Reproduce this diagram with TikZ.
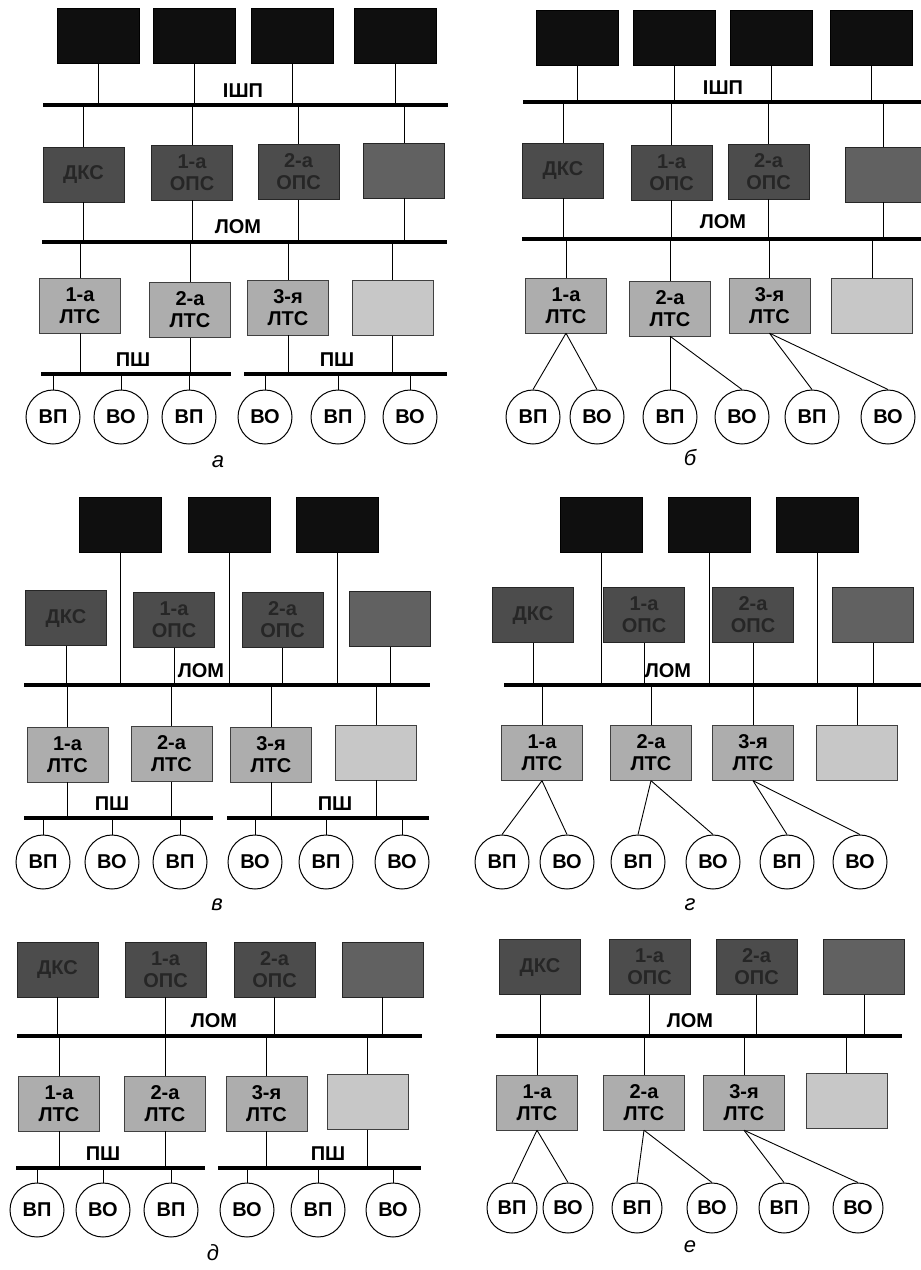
\documentclass[tikz,border=0pt]{standalone}
\usepackage{fontspec}
\setmainfont{Liberation Sans}
\newcommand\boxfont{\fontsize{20}{22}\selectfont\bfseries}
\newcommand\plfont{\fontsize{22}{24}\selectfont\itshape}
\tikzset{
 blk/.style={draw=black, fill=black!94, minimum width=82pt, minimum height=55pt, inner sep=0pt},
 dk/.style={draw=black!85, fill=black!70, text=black!85, minimum width=81pt, minimum height=55pt, inner sep=0pt, align=center, font=\boxfont},
 dkf/.style={dk, fill=black!62},
 lt/.style={draw=black!75, fill=black!32, minimum width=81pt, minimum height=55pt, inner sep=0pt, align=center, font=\boxfont},
 ltf/.style={lt, fill=black!22},
 st/.style={circle, draw=black, line width=1pt, fill=white, minimum size=54pt, inner sep=0pt, font=\boxfont},
 sts/.style={st, minimum size=50pt},
 bus/.style={line width=4.5pt},
 wire/.style={line width=0.9pt},
 buslbl/.style={font=\boxfont, inner sep=0pt},
 plbl/.style={font=\plfont, inner sep=0pt},
}
\begin{document}
\begin{tikzpicture}[x=1pt,y=-1pt]
\useasboundingbox[fill=white] (0,0) rectangle (921,1270);

% ================= panel a =================
\node[blk] (aB1) at (98,36) {};
\node[blk] (aB2) at (194.5,36) {};
\node[blk] (aB3) at (292,36) {};
\node[blk] (aB4) at (395,36) {};
\coordinate (aI1) at (43,105); \coordinate (aI2) at (448,105);
\draw[bus] (aI1) -- (aI2);
\node[buslbl] (aIl) at (243,91) {ІШП};
\node[dk] (aD1) at (83.5,174.5) {ДКС};
\node[dk] (aD2) at (192,172.5) {1-а\\ОПС};
\node[dk] (aD3) at (298.5,172) {2-а\\ОПС};
\node[dkf] (aD4) at (404,170.5) {};
\coordinate (aM1) at (42,242); \coordinate (aM2) at (447,242);
\draw[bus] (aM1) -- (aM2);
\node[buslbl] (aMl) at (238,227) {ЛОМ};
\node[lt] (aL1) at (80,305.5) {1-а\\ЛТС};
\node[lt] (aL2) at (190,310) {2-а\\ЛТС};
\node[lt] (aL3) at (288,307.5) {3-я\\ЛТС};
\node[ltf] (aL4) at (392.5,308) {};
\coordinate (aP1) at (41,374); \coordinate (aP2) at (231,374);
\coordinate (aP3) at (244,374); \coordinate (aP4) at (447,374);
\draw[bus] (aP1) -- (aP2);
\draw[bus] (aP3) -- (aP4);
\node[buslbl] (aPl1) at (133,360) {ПШ};
\node[buslbl] (aPl2) at (337,360) {ПШ};
\node[st] (aC1) at (53,417) {ВП};
\node[st] (aC2) at (121,417) {ВО};
\node[st] (aC3) at (189,417) {ВП};
\node[st] (aC4) at (265,417) {ВО};
\node[st] (aC5) at (338,417) {ВП};
\node[st] (aC6) at (410,417) {ВО};
\foreach \i in {1,2,3,4} {
  \draw[wire] (aB\i.south) -- (aB\i.south |- aI1);
  \draw[wire] (aI1 -| aD\i.north) -- (aD\i.north);
  \draw[wire] (aD\i.south) -- (aD\i.south |- aM1);
  \draw[wire] (aM1 -| aL\i.north) -- (aL\i.north);
  \draw[wire] (aL\i.south) -- (aL\i.south |- aP1);
}
\foreach \i in {1,2,3,4,5,6} {
  \draw[wire] (aP1 -| aC\i.north) -- (aC\i.north);
}
\node[plbl] (aT) at (218,462) {а};

% ================= panel b =================
\node[blk] (bB1) at (577.5,37.5) {};
\node[blk] (bB2) at (674,37.5) {};
\node[blk] (bB3) at (771,37.5) {};
\node[blk] (bB4) at (871,37.5) {};
\coordinate (bI1) at (523,102); \coordinate (bI2) at (921,102);
\draw[bus] (bI1) -- (bI2);
\node[buslbl] (bIl) at (723,88) {ІШП};
\node[dk] (bD1) at (563,170.5) {ДКС};
\node[dk] (bD2) at (671.5,172.5) {1-а\\ОПС};
\node[dk] (bD3) at (768.5,171.5) {2-а\\ОПС};
\node[dkf, minimum width=77pt] (bD4) at (883.5,174.5) {};
\coordinate (bM1) at (522,239); \coordinate (bM2) at (921,239);
\draw[bus] (bM1) -- (bM2);
\node[buslbl] (bMl) at (723,222) {ЛОМ};
\node[lt] (bL1) at (566,305.5) {1-а\\ЛТС};
\node[lt] (bL2) at (670,308.5) {2-а\\ЛТС};
\node[lt] (bL3) at (769.5,305.5) {3-я\\ЛТС};
\node[ltf] (bL4) at (872,306) {};
\node[st] (bC1) at (533,417) {ВП};
\node[st] (bC2) at (597,417) {ВО};
\node[st] (bC3) at (670,417) {ВП};
\node[st] (bC4) at (742,417) {ВО};
\node[st] (bC5) at (812,417) {ВП};
\node[st] (bC6) at (888,417) {ВО};
\foreach \i in {1,2,3,4} {
  \draw[wire] (bB\i.south) -- (bB\i.south |- bI1);
  \draw[wire] (bI1 -| bD\i.north) -- (bD\i.north);
  \draw[wire] (bD\i.south) -- (bD\i.south |- bM1);
  \draw[wire] (bM1 -| bL\i.north) -- (bL\i.north);
}
\draw[wire] (bL1.south) -- (bC1.north);
\draw[wire] (bL1.south) -- (bC2.north);
\draw[wire] (bL2.south) -- (bC3.north);
\draw[wire] (bL2.south) -- (bC4.north);
\draw[wire] (bL3.south) -- (bC5.north);
\draw[wire] (bL3.south) -- (bC6.north);
\node[plbl] (bT) at (690,458) {б};

% ================= panel c (в) =================
\node[blk] (cB1) at (120.5,525) {};
\node[blk] (cB2) at (229,525) {};
\node[blk] (cB3) at (337,525) {};
\node[dk] (cD1) at (66,618) {ДКС};
\node[dk] (cD2) at (174,620) {1-а\\ОПС};
\node[dk] (cD3) at (282.5,620) {2-а\\ОПС};
\node[dkf] (cD4) at (390,619) {};
\coordinate (cM1) at (24,685); \coordinate (cM2) at (430,685);
\draw[bus] (cM1) -- (cM2);
\node[buslbl] (cMl) at (201,671) {ЛОМ};
\node[lt] (cL1) at (67.5,754.5) {1-а\\ЛТС};
\node[lt] (cL2) at (171.5,754) {2-а\\ЛТС};
\node[lt] (cL3) at (271,754.5) {3-я\\ЛТС};
\node[ltf] (cL4) at (376,752.5) {};
\coordinate (cP1) at (24,818); \coordinate (cP2) at (213,818);
\coordinate (cP3) at (227,818); \coordinate (cP4) at (429,818);
\draw[bus] (cP1) -- (cP2);
\draw[bus] (cP3) -- (cP4);
\node[buslbl] (cPl1) at (112,804) {ПШ};
\node[buslbl] (cPl2) at (335,804) {ПШ};
\node[st] (cC1) at (43,862) {ВП};
\node[st] (cC2) at (112,862) {ВО};
\node[st] (cC3) at (180,862) {ВП};
\node[st] (cC4) at (255,862) {ВО};
\node[st] (cC5) at (326,862) {ВП};
\node[st] (cC6) at (402,862) {ВО};
\foreach \i in {1,2,3} {
  \draw[wire] (cB\i.south) -- (cB\i.south |- cM1);
}
\foreach \i in {1,2,3,4} {
  \draw[wire] (cD\i.south) -- (cD\i.south |- cM1);
  \draw[wire] (cM1 -| cL\i.north) -- (cL\i.north);
  \draw[wire] (cL\i.south) -- (cL\i.south |- cP1);
}
\foreach \i in {1,2,3,4,5,6} {
  \draw[wire] (cP1 -| cC\i.north) -- (cC\i.north);
}
\node[plbl] (cT) at (217,905) {в};

% ================= panel d (г) =================
\node[blk] (dB1) at (601,525) {};
\node[blk] (dB2) at (709,525) {};
\node[blk] (dB3) at (817,525) {};
\node[dk] (dD1) at (533,615) {ДКС};
\node[dk] (dD2) at (644,615) {1-а\\ОПС};
\node[dk] (dD3) at (753,615) {2-а\\ОПС};
\node[dkf] (dD4) at (873,615) {};
\coordinate (dM1) at (504,685); \coordinate (dM2) at (921,685);
\draw[bus] (dM1) -- (dM2);
\node[buslbl] (dMl) at (668,671) {ЛОМ};
\node[lt] (dL1) at (542,753) {1-а\\ЛТС};
\node[lt] (dL2) at (651,753) {2-а\\ЛТС};
\node[lt] (dL3) at (753,753) {3-я\\ЛТС};
\node[ltf] (dL4) at (857,753) {};
\node[st] (dC1) at (502,862) {ВП};
\node[st] (dC2) at (567,862) {ВО};
\node[st] (dC3) at (638,862) {ВП};
\node[st] (dC4) at (713,862) {ВО};
\node[st] (dC5) at (787,862) {ВП};
\node[st] (dC6) at (860,862) {ВО};
\foreach \i in {1,2,3} {
  \draw[wire] (dB\i.south) -- (dB\i.south |- dM1);
}
\foreach \i in {1,2,3,4} {
  \draw[wire] (dD\i.south) -- (dD\i.south |- dM1);
  \draw[wire] (dM1 -| dL\i.north) -- (dL\i.north);
}
\draw[wire] (dL1.south) -- (dC1.north);
\draw[wire] (dL1.south) -- (dC2.north);
\draw[wire] (dL2.south) -- (dC3.north);
\draw[wire] (dL2.south) -- (dC4.north);
\draw[wire] (dL3.south) -- (dC5.north);
\draw[wire] (dL3.south) -- (dC6.north);
\node[plbl] (dT) at (690,905) {г};

% ================= panel e (д) =================
\node[dk] (eD1) at (57.5,969.5) {ДКС};
\node[dk] (eD2) at (165.5,969.5) {1-а\\ОПС};
\node[dk] (eD3) at (274.5,969.5) {2-а\\ОПС};
\node[dkf] (eD4) at (382.5,969.5) {};
\coordinate (eM1) at (17,1036); \coordinate (eM2) at (422,1036);
\draw[bus] (eM1) -- (eM2);
\node[buslbl] (eMl) at (214,1021) {ЛОМ};
\node[lt] (eL1) at (59,1103.5) {1-а\\ЛТС};
\node[lt] (eL2) at (165,1103.5) {2-а\\ЛТС};
\node[lt] (eL3) at (266.5,1103.5) {3-я\\ЛТС};
\node[ltf] (eL4) at (367.5,1102) {};
\coordinate (eP1) at (16,1168); \coordinate (eP2) at (205,1168);
\coordinate (eP3) at (218,1168); \coordinate (eP4) at (421,1168);
\draw[bus] (eP1) -- (eP2);
\draw[bus] (eP3) -- (eP4);
\node[buslbl] (ePl1) at (103,1154) {ПШ};
\node[buslbl] (ePl2) at (328,1154) {ПШ};
\node[st] (eC1) at (37,1210) {ВП};
\node[st] (eC2) at (103,1210) {ВО};
\node[st] (eC3) at (171,1210) {ВП};
\node[st] (eC4) at (247,1210) {ВО};
\node[st] (eC5) at (318,1210) {ВП};
\node[st] (eC6) at (393,1210) {ВО};
\foreach \i in {1,2,3,4} {
  \draw[wire] (eD\i.south) -- (eD\i.south |- eM1);
  \draw[wire] (eM1 -| eL\i.north) -- (eL\i.north);
  \draw[wire] (eL\i.south) -- (eL\i.south |- eP1);
}
\foreach \i in {1,2,3,4,5,6} {
  \draw[wire] (eP1 -| eC\i.north) -- (eC\i.north);
}
\node[plbl] (eT) at (213,1253) {д};

% ================= panel f (е) =================
\node[dk] (fD1) at (540,967) {ДКС};
\node[dk] (fD2) at (649.5,967) {1-а\\ОПС};
\node[dk] (fD3) at (756.5,967) {2-а\\ОПС};
\node[dkf] (fD4) at (864,967) {};
\coordinate (fM1) at (496,1036); \coordinate (fM2) at (902,1036);
\draw[bus] (fM1) -- (fM2);
\node[buslbl] (fMl) at (690,1021) {ЛОМ};
\node[lt] (fL1) at (537,1102.5) {1-а\\ЛТС};
\node[lt] (fL2) at (644,1102.5) {2-а\\ЛТС};
\node[lt] (fL3) at (744,1102.5) {3-я\\ЛТС};
\node[ltf] (fL4) at (846.5,1101) {};
\node[sts] (fC1) at (512,1208) {ВП};
\node[sts] (fC2) at (568,1208) {ВО};
\node[sts] (fC3) at (637,1208) {ВП};
\node[sts] (fC4) at (712,1208) {ВО};
\node[sts] (fC5) at (784,1208) {ВП};
\node[sts] (fC6) at (858,1208) {ВО};
\foreach \i in {1,2,3,4} {
  \draw[wire] (fD\i.south) -- (fD\i.south |- fM1);
  \draw[wire] (fM1 -| fL\i.north) -- (fL\i.north);
}
\draw[wire] (fL1.south) -- (fC1.north);
\draw[wire] (fL1.south) -- (fC2.north);
\draw[wire] (fL2.south) -- (fC3.north);
\draw[wire] (fL2.south) -- (fC4.north);
\draw[wire] (fL3.south) -- (fC5.north);
\draw[wire] (fL3.south) -- (fC6.north);
\node[plbl] (fT) at (690,1247) {е};
\end{tikzpicture}
\end{document}
